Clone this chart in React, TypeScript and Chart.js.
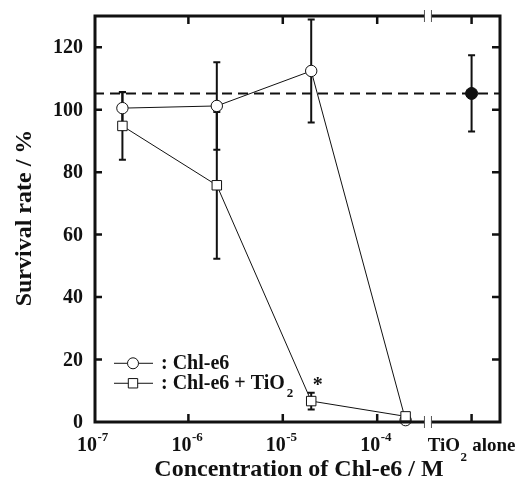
import React, { useEffect, useRef } from 'react';
import { Chart, registerables } from 'chart.js';

Chart.register(...registerables);

// ---- data ----
const concentrations = [2e-7, 2e-6, 2e-5, 2e-4];
const chlE6Values = [100.5, 101.2, 112.4, 0.6];
const chlE6Errors = [5.2, 14.0, 16.5, 0];
const chlE6TiO2Values = [94.8, 75.8, 6.7, 1.8];
const chlE6TiO2Errors = [10.8, 23.5, 2.7, 0];
const tio2AlonePosition = 1e-3;
const tio2AloneValue = 105.2;
const tio2AloneError = 12.2;
const yTickValues = [0, 20, 40, 60, 80, 100, 120];
const xTickValues = [1e-7, 1e-6, 1e-5, 1e-4];
const xTickExponents = ['-7', '-6', '-5', '-4'];
const axisBreakPosition = 3.45e-4;
const asteriskPosition = { x: 2.34e-5, y: 12.9 };
const xMin = 1e-7;
const xMax = 2e-3;
const yMin = 0;
const yMax = 130;

const FONT = '"Liberation Serif", "Times New Roman", serif';

const decorPlugin = {
  id: 'decor',
  beforeDatasetsDraw(chart: any) {
    const ctx = chart.ctx;
    const xs = chart.scales.x;
    const ys = chart.scales.y;
    ctx.save();
    ctx.strokeStyle = '#111';
    ctx.lineWidth = 2;
    const drawErr = (x: number, y: number, e: number) => {
      if (!e) return;
      const px = xs.getPixelForValue(x);
      const y1 = ys.getPixelForValue(y + e);
      const y2 = ys.getPixelForValue(y - e);
      ctx.beginPath();
      ctx.moveTo(px, y1);
      ctx.lineTo(px, y2);
      ctx.moveTo(px - 3.5, y1);
      ctx.lineTo(px + 3.5, y1);
      ctx.moveTo(px - 3.5, y2);
      ctx.lineTo(px + 3.5, y2);
      ctx.stroke();
    };
    concentrations.forEach((c, i) => {
      drawErr(c, chlE6Values[i], chlE6Errors[i]);
      drawErr(c, chlE6TiO2Values[i], chlE6TiO2Errors[i]);
    });
    drawErr(tio2AlonePosition, tio2AloneValue, tio2AloneError);
    ctx.restore();
  },
  afterDraw(chart: any) {
    const ctx = chart.ctx;
    const xs = chart.scales.x;
    const ys = chart.scales.y;
    const { left, right, top, bottom } = chart.chartArea;
    ctx.save();
    ctx.fillStyle = '#111';
    ctx.strokeStyle = '#111';

    // frame
    ctx.lineWidth = 3;
    ctx.strokeRect(left + 1, top, right - left - 1, bottom - top);

    // ticks
    ctx.lineWidth = 2.5;
    ctx.beginPath();
    yTickValues.forEach((v) => {
      if (v === yMin) return;
      const py = ys.getPixelForValue(v);
      ctx.moveTo(left, py);
      ctx.lineTo(left + 8, py);
      ctx.moveTo(right, py);
      ctx.lineTo(right - 8, py);
    });
    [...xTickValues.slice(1), tio2AlonePosition].forEach((v) => {
      const px = xs.getPixelForValue(v);
      ctx.moveTo(px, top);
      ctx.lineTo(px, top + 8);
      ctx.moveTo(px, bottom);
      ctx.lineTo(px, bottom - 8);
    });
    ctx.stroke();

    // axis breaks
    const bx = xs.getPixelForValue(axisBreakPosition);
    [top, bottom].forEach((ay) => {
      ctx.fillStyle = '#fff';
      ctx.fillRect(bx - 3, ay - 3, 6, 6);
      ctx.strokeStyle = '#555';
      ctx.lineWidth = 1;
      ctx.beginPath();
      ctx.moveTo(bx - 3.5, ay - 6);
      ctx.lineTo(bx - 3.5, ay + 6);
      ctx.moveTo(bx + 3.5, ay - 6);
      ctx.lineTo(bx + 3.5, ay + 6);
      ctx.stroke();
    });

    ctx.fillStyle = '#111';
    // y tick labels
    ctx.font = `bold 20px ${FONT}`;
    ctx.textAlign = 'right';
    ctx.textBaseline = 'middle';
    yTickValues.forEach((v) => {
      ctx.fillText(String(v), left - 11, ys.getPixelForValue(v) + 1);
    });

    // x tick labels
    const baseY = bottom + 29;
    xTickValues.forEach((v, i) => {
      const px = xs.getPixelForValue(v);
      ctx.font = `bold 20px ${FONT}`;
      ctx.textAlign = 'right';
      ctx.textBaseline = 'alphabetic';
      ctx.fillText('10', px + 3, baseY);
      ctx.font = `bold 13px ${FONT}`;
      ctx.textAlign = 'left';
      ctx.fillText(xTickExponents[i], px + 3.5, baseY - 10);
    });
    // TiO2 alone label
    {
      const px = xs.getPixelForValue(tio2AlonePosition);
      ctx.textAlign = 'left';
      ctx.textBaseline = 'alphabetic';
      ctx.font = `bold 19px ${FONT}`;
      const w1 = ctx.measureText('TiO').width;
      const w3 = ctx.measureText(' alone').width;
      ctx.font = `bold 13px ${FONT}`;
      const w2 = ctx.measureText('2').width + 1;
      const x0 = px - (w1 + w2 + w3) / 2;
      ctx.font = `bold 19px ${FONT}`;
      ctx.fillText('TiO', x0, baseY);
      ctx.font = `bold 13px ${FONT}`;
      ctx.fillText('2', x0 + w1 + 0.5, baseY + 10);
      ctx.font = `bold 19px ${FONT}`;
      ctx.fillText(' alone', x0 + w1 + w2, baseY);
    }

    // axis titles
    ctx.font = `bold 24px ${FONT}`;
    ctx.textAlign = 'center';
    ctx.textBaseline = 'alphabetic';
    ctx.fillText('Concentration of Chl-e6 / M', (left + right) / 2 + 2, bottom + 54);
    ctx.save();
    ctx.translate(31, 218);
    ctx.rotate(-Math.PI / 2);
    ctx.fillText('Survival rate / %', 0, 0);
    ctx.restore();

    // asterisk
    ctx.font = `bold 20px ${FONT}`;
    ctx.textAlign = 'center';
    ctx.textBaseline = 'middle';
    ctx.fillText('*', xs.getPixelForValue(asteriskPosition.x), ys.getPixelForValue(asteriskPosition.y) + 4);

    // legend
    const lx = left + 20;
    const rows = [
      { y: ys.getPixelForValue(18.8), label: ': Chl-e6', sub: '', style: 'circle' },
      { y: ys.getPixelForValue(12.4), label: ': Chl-e6 + TiO', sub: '2', style: 'rect' },
    ];
    rows.forEach((r) => {
      ctx.strokeStyle = '#111';
      ctx.lineWidth = 1;
      ctx.beginPath();
      ctx.moveTo(lx, r.y);
      ctx.lineTo(lx + 39, r.y);
      ctx.stroke();
      ctx.fillStyle = '#fff';
      ctx.beginPath();
      if (r.style === 'circle') {
        ctx.arc(lx + 19, r.y, 5.5, 0, Math.PI * 2);
      } else {
        ctx.rect(lx + 19 - 4.7, r.y - 4.7, 9.4, 9.4);
      }
      ctx.fill();
      ctx.stroke();
      ctx.fillStyle = '#111';
      ctx.font = `bold 20px ${FONT}`;
      ctx.textAlign = 'left';
      ctx.textBaseline = 'middle';
      ctx.fillText(r.label, lx + 47, r.y + 1);
      if (r.sub) {
        const w = ctx.measureText(r.label).width;
        ctx.font = `bold 13px ${FONT}`;
        ctx.fillText(r.sub, lx + 47 + w + 2, r.y + 10);
      }
    });
    ctx.restore();
  },
};

export default function App() {
  const ref = useRef<HTMLCanvasElement>(null);
  useEffect(() => {
    if (!ref.current) return;
    const chart = new Chart(ref.current, {
      type: 'scatter',
      data: {
        datasets: [
          {
            label: 'Chl-e6 + TiO2',
            data: concentrations.map((c, i) => ({ x: c, y: chlE6TiO2Values[i] })),
            showLine: true,
            borderColor: '#111',
            borderWidth: 1,
            pointStyle: 'rect',
            pointRadius: 6.7,
            pointBackgroundColor: '#fff',
            pointBorderColor: '#111',
            pointBorderWidth: 1,
            clip: false,
          },
          {
            label: 'Chl-e6',
            data: concentrations.map((c, i) => ({ x: c, y: chlE6Values[i] })),
            showLine: true,
            borderColor: '#111',
            borderWidth: 1,
            pointStyle: 'circle',
            pointRadius: 5.7,
            pointBackgroundColor: '#fff',
            pointBorderColor: '#111',
            pointBorderWidth: 1,
            clip: false,
          },
          {
            label: 'TiO2 alone',
            data: [{ x: tio2AlonePosition, y: tio2AloneValue }],
            showLine: false,
            pointStyle: 'circle',
            pointRadius: 6,
            pointBackgroundColor: '#111',
            pointBorderColor: '#111',
            clip: false,
          },
          {
            label: 'TiO2 alone level',
            data: [{ x: xMin, y: tio2AloneValue }, { x: xMax, y: tio2AloneValue }],
            showLine: true,
            borderColor: '#111',
            borderWidth: 2,
            borderDash: [10, 6],
            pointRadius: 0,
          },
        ] as any,
      },
      options: {
        animation: false,
        responsive: false,
        events: [],
        layout: { padding: { left: 94, right: 21, top: 16, bottom: 68 } },
        plugins: { legend: { display: false }, tooltip: { enabled: false } },
        scales: {
          x: { type: 'logarithmic', min: xMin, max: xMax, display: false },
          y: { type: 'linear', min: yMin, max: yMax, display: false },
        },
      } as any,
      plugins: [decorPlugin],
    });
    return () => chart.destroy();
  }, []);
  return (
    <div style={{ position: 'absolute', left: 0, top: 0, width: 521, height: 490, background: '#fff' }}>
      <canvas ref={ref} width={521} height={490} />
    </div>
  );
}
